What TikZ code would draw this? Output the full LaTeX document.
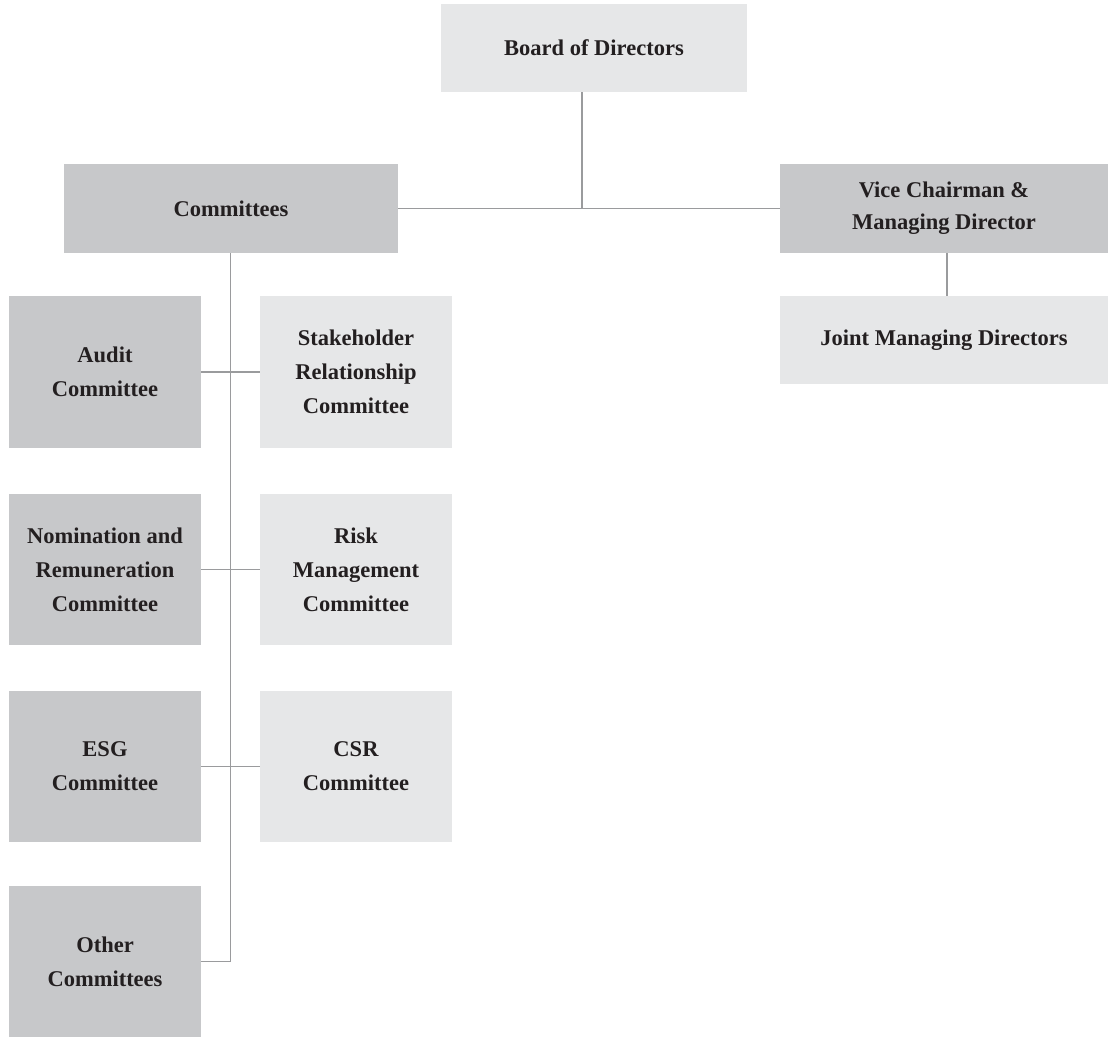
\documentclass[tikz,border=0pt]{standalone}
\usepackage{fontspec}
\setmainfont{Liberation Serif}
\definecolor{boxlight}{HTML}{E6E7E8}
\definecolor{boxdark}{HTML}{C7C8CA}
\definecolor{linegray}{HTML}{9A9B9D}
\definecolor{txt}{HTML}{231F20}
\begin{document}
\begin{tikzpicture}[x=1pt,y=-1pt,
  base/.style={inner sep=0pt, align=center, text=txt,
    font=\fontsize{22.5}{34}\selectfont\bfseries},
  light/.style={base, fill=boxlight},
  dark/.style={base, fill=boxdark},
  wide/.style={minimum width=#1, minimum height=88.5},
  small/.style={minimum width=192, minimum height=151.5},
  conn/.style={draw=linegray, line width=1.3pt}]
\useasboundingbox (0,0) rectangle (1108,1037);
\node[light, minimum width=306, minimum height=88] (board) at (594,48) {Board of Directors};
\node[dark, minimum width=334, minimum height=89] (comm) at (231,208.5) {Committees};
\node[dark, minimum width=328, minimum height=89,
  font=\fontsize{22.5}{32}\selectfont\bfseries] (vc) at (944,208.5) {Vice Chairman \&\\Managing Director};
\node[light, minimum width=328, minimum height=88] (jmd) at (944,340) {Joint Managing Directors};
\node[dark, small] (audit) at (105,372) {Audit\\Committee};
\node[light, small] (stake) at (356,372) {Stakeholder\\Relationship\\Committee};
\node[dark, small] (nom) at (105,569.5) {Nomination and\\Remuneration\\Committee};
\node[light, small] (risk) at (356,569.5) {Risk\\Management\\Committee};
\node[dark, small] (esg) at (105,766.5) {ESG\\Committee};
\node[light, small] (csr) at (356,766.5) {CSR\\Committee};
\node[dark, small] (other) at (105,961.5) {Other\\Committees};
\coordinate (j1) at (582,208.5);
\coordinate (j2) at (947,0);
\coordinate (j3) at (230.5,0);
\draw[conn] (board.south -| j1) -- (j1);
\draw[conn] (comm.east) -- (vc.west);
\draw[conn] (vc.south -| j2) -- (jmd.north -| j2);
\draw[conn] (comm.south -| j3) |- (other.east);
\draw[conn] (audit.east) -- (stake.west);
\draw[conn] (nom.east) -- (risk.west);
\draw[conn] (esg.east) -- (csr.west);
\end{tikzpicture}
\end{document}
